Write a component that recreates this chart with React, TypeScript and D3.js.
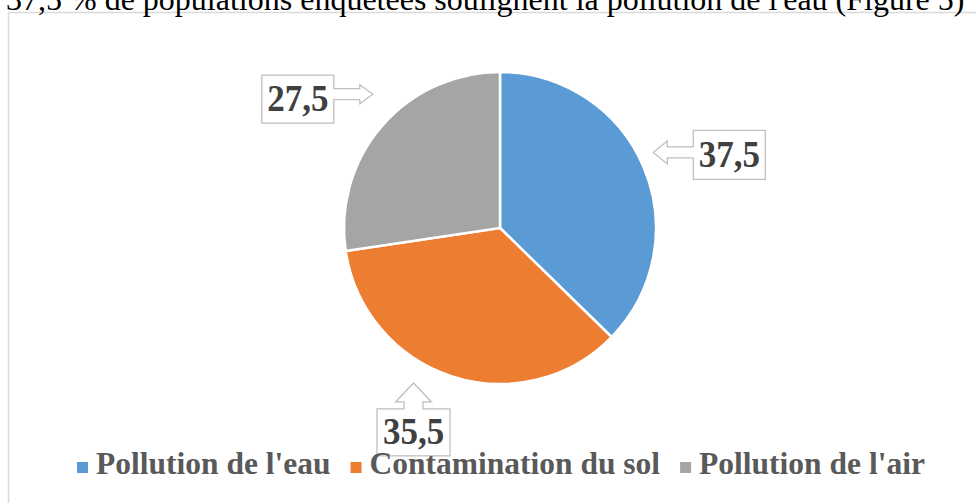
import * as d3 from 'd3';
import { useEffect, useRef } from 'react';

const categories = ["Pollution de l'eau", 'Contamination du sol', "Pollution de l'air"];
const values = [37.5, 35.5, 27.5];
const valueLabels = ['37,5', '35,5', '27,5'];
const colors = ['#5B9BD5', '#ED7D31', '#A5A5A5'];
const caption = "37,5 % de populations enquêtées soulignent la pollution de l'eau (Figure 5)";

// callout placement, relative to the point on the rim at the slice's mid angle
const callouts = [
  { dx: 85.5, dy: -12.5, w: 72, h: 49, dir: 'left', reach: 40, head: 14, stem: 5.5, wing: 11.5, shift: -2.5 },
  { dx: -38.5, dy: 56, w: 73, h: 47, dir: 'up', reach: 26, head: 19, stem: 9.5, wing: 18, shift: 0 },
  { dx: -84, dy: -27, w: 72, h: 48, dir: 'right', reach: 39, head: 13, stem: 5.5, wing: 9.5, shift: -5 },
];

const SERIF = '"Liberation Serif", "Times New Roman", serif';

function calloutPath(cx: number, cy: number, c: any) {
  const x0 = cx - c.w / 2;
  const x1 = cx + c.w / 2;
  const y0 = cy - c.h / 2;
  const y1 = cy + c.h / 2;
  const p = d3.path();
  if (c.dir === 'right') {
    const ay = cy + c.shift;
    const xt = x1 + c.reach;
    const xh = xt - c.head;
    p.moveTo(x0, y0); p.lineTo(x1, y0); p.lineTo(x1, ay - c.stem); p.lineTo(xh, ay - c.stem);
    p.lineTo(xh, ay - c.wing); p.lineTo(xt, ay); p.lineTo(xh, ay + c.wing); p.lineTo(xh, ay + c.stem);
    p.lineTo(x1, ay + c.stem); p.lineTo(x1, y1); p.lineTo(x0, y1); p.closePath();
  } else if (c.dir === 'left') {
    const ay = cy + c.shift;
    const xt = x0 - c.reach;
    const xh = xt + c.head;
    p.moveTo(x1, y0); p.lineTo(x0, y0); p.lineTo(x0, ay - c.stem); p.lineTo(xh, ay - c.stem);
    p.lineTo(xh, ay - c.wing); p.lineTo(xt, ay); p.lineTo(xh, ay + c.wing); p.lineTo(xh, ay + c.stem);
    p.lineTo(x0, ay + c.stem); p.lineTo(x0, y1); p.lineTo(x1, y1); p.closePath();
  } else {
    const ax = cx + c.shift;
    const yt = y0 - c.reach;
    const yh = yt + c.head;
    p.moveTo(x0, y1); p.lineTo(x0, y0); p.lineTo(ax - c.stem, y0); p.lineTo(ax - c.stem, yh);
    p.lineTo(ax - c.wing, yh); p.lineTo(ax, yt); p.lineTo(ax + c.wing, yh); p.lineTo(ax + c.stem, yh);
    p.lineTo(ax + c.stem, y0); p.lineTo(x1, y0); p.lineTo(x1, y1); p.closePath();
  }
  return p.toString();
}

function PieChart({ width = 976, height = 503 }) {
  const ref = useRef<SVGSVGElement>(null);

  useEffect(() => {
    const svg = d3.select(ref.current);
    svg.selectAll('*').remove();

    const cx = 500;
    const cy = 228;
    const radius = 156;

    svg.append('rect')
      .attr('width', width)
      .attr('height', height)
      .attr('fill', '#fff');

    // chart frame (runs off the page on the right and bottom)
    svg.append('rect')
      .attr('x', 8.5)
      .attr('y', 12.5)
      .attr('width', 1000)
      .attr('height', 600)
      .attr('fill', 'none')
      .attr('stroke', '#d9d9d9')
      .attr('stroke-width', 1.5);

    // caption of the previous paragraph, cut by the page top
    svg.append('text')
      .attr('x', 6)
      .attr('y', 10)
      .style('font-family', SERIF)
      .style('font-size', '32px')
      .style('fill', '#000')
      .text(caption);

    const pie = d3.pie<number>().sort(null).value((d) => d);
    const arcs = pie(values);
    const arc = d3.arc<d3.PieArcDatum<number>>().innerRadius(0).outerRadius(radius);

    const root = svg.append('g').attr('transform', `translate(${cx},${cy})`);
    root.selectAll('path.slice')
      .data(arcs)
      .enter()
      .append('path')
      .attr('class', 'slice')
      .attr('d', arc)
      .attr('fill', (_d, i) => colors[i])
      .attr('stroke', '#fff')
      .attr('stroke-width', 2.5)
      .attr('stroke-linejoin', 'round');

    arcs.forEach((a, i) => {
      const mid = (a.startAngle + a.endAngle) / 2;
      const rimX = cx + radius * Math.sin(mid);
      const rimY = cy - radius * Math.cos(mid);
      const c = callouts[i];
      const bx = rimX + c.dx;
      const by = rimY + c.dy;
      svg.append('path')
        .attr('d', calloutPath(bx, by, c))
        .attr('fill', '#fff')
        .attr('stroke', '#bfbfbf')
        .attr('stroke-width', 1.3);
      svg.append('text')
        .attr('transform', `translate(${bx},${by + 12}) scale(1,1.1)`)
        .attr('text-anchor', 'middle')
        .style('font-family', SERIF)
        .style('font-weight', 700)
        .style('font-size', '35px')
        .style('fill', '#404040')
        .text(valueLabels[i]);
    });

    // legend
    const legend = svg.append('g');
    let x = 77;
    categories.forEach((name, i) => {
      legend.append('rect')
        .attr('x', x)
        .attr('y', 462)
        .attr('width', 11)
        .attr('height', 11)
        .attr('fill', colors[i]);
      const t = legend.append('text')
        .attr('x', x + 19)
        .attr('y', 474)
        .style('font-family', SERIF)
        .style('font-weight', 700)
        .style('font-size', '31.5px')
        .style('fill', '#595959')
        .text(name);
      const w = (t.node() as SVGTextElement).getComputedTextLength();
      x += 19 + w + 20;
    });

    return () => {
      svg.selectAll('*').remove();
    };
  }, [width, height]);

  return <svg ref={ref} width={width} height={height} style={{ display: 'block' }} />;
}

export default function App() {
  return (
    <>
      <style>{'body{margin:0}'}</style>
      <PieChart />
    </>
  );
}
